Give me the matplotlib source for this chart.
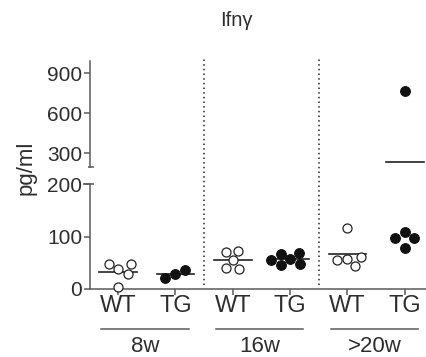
import matplotlib
matplotlib.use("Agg")
import matplotlib.pyplot as plt
import numpy as np
from matplotlib.lines import Line2D
from matplotlib.transforms import blended_transform_factory

plt.rcParams['font.family'] = ['Liberation Sans', 'DejaVu Sans']

# ---------------- data ----------------
title = "Ifnγ"
ylabel = "pg/ml"
tick_labels = ["WT", "TG", "WT", "TG", "WT", "TG"]
groups = ["8w", "16w", ">20w"]
wt_8w = [38, 28, 47, 47, 4]
tg_8w = [28, 37, 21]
wt_16w = [55, 73, 71, 38, 40]
tg_16w = [57, 48, 68, 66, 46, 56]
wt_20w = [57, 44, 117, 55, 61]
tg_20w = [770, 108, 98, 98, 79]
series = [wt_8w, tg_8w, wt_16w, tg_16w, wt_20w, tg_20w]
filled = [False, True, False, True, False, True]
bot_yticks = [0, 100, 200]
top_yticks = [300, 600, 900]

# ---------------- layout ----------------
W, H = 426, 357
fig = plt.figure(figsize=(W / 100, H / 100), dpi=100)
gray = "#5a5a5a"
txt = "#2e2e2e"

ax_bot = fig.add_axes([90 / W, 1 - 289 / H, 1 - 90 / W, (289 - 184) / H])
ax_top = fig.add_axes([90 / W, 1 - 167 / H, 1 - 90 / W, (167 - 61) / H])

xlim = (-0.49, 5.37)
for ax in (ax_bot, ax_top):
    ax.set_xlim(*xlim)
    ax.patch.set_alpha(0)
    for s in ("top", "right"):
        ax.spines[s].set_visible(False)
    ax.spines["left"].set_color(gray)
    ax.spines["left"].set_linewidth(1.1)
    ax.tick_params(axis="y", colors=gray, labelcolor=txt, labelsize=15,
                   length=4.5, width=1.1, pad=1)

ax_bot.set_ylim(0, 200)
ax_top.set_ylim(195, 993)
ax_top.spines["bottom"].set_visible(False)
ax_top.tick_params(axis="x", bottom=False, labelbottom=False)
ax_bot.spines["bottom"].set_color(gray)
ax_bot.spines["bottom"].set_linewidth(1.1)
ax_bot.set_yticks(bot_yticks)
ax_top.set_yticks(top_yticks)
xpos = np.arange(len(tick_labels))
ax_bot.set_xticks(xpos)
ax_bot.set_xticklabels(tick_labels)
ax_bot.tick_params(axis="x", colors=gray, labelcolor=txt, labelsize=17,
                   length=4, width=1.1, pad=0.5)

# break caps on y axis
ax_bot.plot([-0.02, 0.012], [1, 1], transform=ax_bot.transAxes, color=gray,
            lw=1.1, clip_on=False, solid_capstyle="butt")
ax_top.plot([-0.006, 0.012], [0, 0], transform=ax_top.transAxes, color=gray,
            lw=1.1, clip_on=False, solid_capstyle="butt")


def ypix(v):
    ax = ax_top if v > 200 else ax_bot
    return ax.transData.transform((0, v))[1]


def swarm(values, D=10.5):
    placed = []
    xs = []
    steps = [0.0]
    for k in range(1, 120):
        steps += [k * 0.5, -k * 0.5]
    for v in values:
        y = ypix(v)
        for dx in steps:
            if all((dx - px) ** 2 + (y - py) ** 2 >= D * D for px, py in placed):
                placed.append((dx, y))
                xs.append(dx)
                break
    return xs


unit = ax_bot.transData.transform((1, 0))[0] - ax_bot.transData.transform((0, 0))[0]

for i, vals in enumerate(series):
    offs = swarm(vals)
    for v, o in zip(vals, offs):
        ax = ax_top if v > 200 else ax_bot
        if filled[i]:
            ax.plot(i + o / unit, v, "o", ms=7, mfc="#111111", mec="#111111",
                    mew=0.8, clip_on=False, zorder=3)
        else:
            ax.plot(i + o / unit, v, "o", ms=6.5, mfc="white", mec="#222222",
                    mew=0.9, clip_on=False, zorder=3)
    m = float(np.mean(vals))
    ax = ax_top if m > 200 else ax_bot
    ax.plot([i - 0.33, i + 0.33], [m, m], color="#222222", lw=1.2,
            zorder=2, clip_on=False)

# dotted separators spanning both panels
tr = blended_transform_factory(ax_bot.transData, fig.transFigure)
for g in range(1, len(groups)):
    xsep = 2 * g - 0.5
    fig.add_artist(Line2D([xsep, xsep], [1 - 285 / H, 1 - 57 / H], transform=tr,
                          color="#333333", lw=1.2, linestyle=(0, (0.9, 1.9))))

# group underlines and labels
for g, name in enumerate(groups):
    c = 2 * g + 0.47
    fig.add_artist(Line2D([c - 0.76, c + 0.76], [1 - 329 / H, 1 - 329 / H],
                          transform=tr, color=gray, lw=1.1))
    ax_bot.text(c, 1 - 346 / H, name, transform=tr, ha="center", va="center",
                fontsize=16, color=txt)

fig.text(26 / W, 1 - 168 / H, ylabel, rotation=90, ha="center", va="center",
         fontsize=16, color=txt)
fig.text(236 / W, 1 - 21 / H, title, ha="center", va="center", fontsize=14.5,
         color=txt)

fig.savefig("out.png", dpi=100)
